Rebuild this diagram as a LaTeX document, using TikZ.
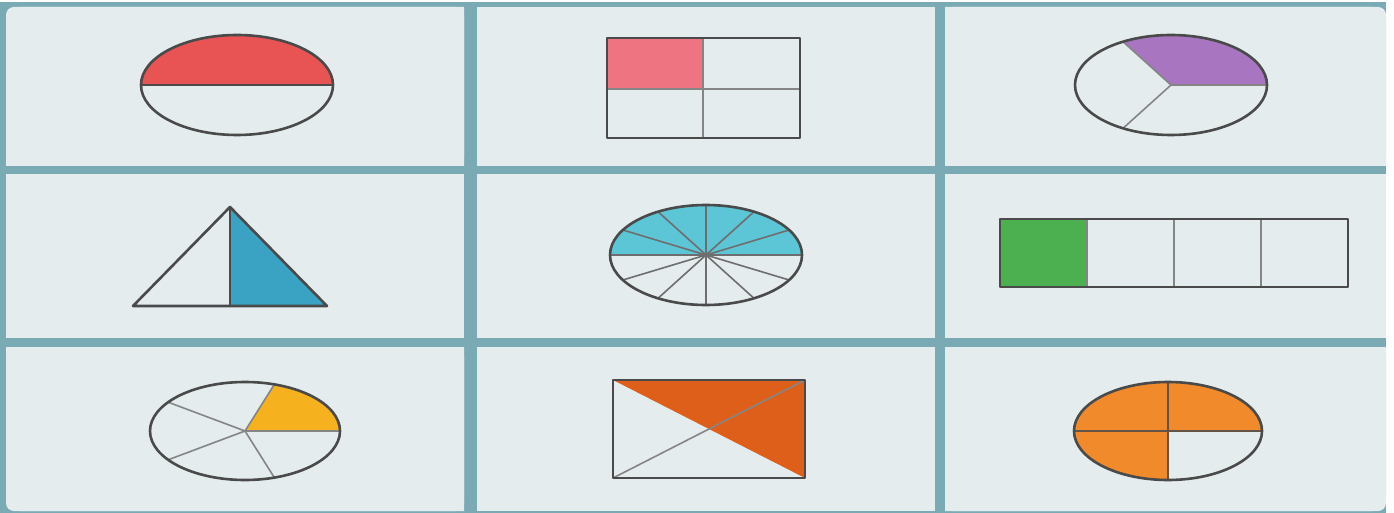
\documentclass[tikz,border=0pt]{standalone}
\definecolor{cellbg}{HTML}{E4ECEE}
\definecolor{framec}{HTML}{7AAAB4}
\definecolor{outc}{HTML}{4A4A4A}
\definecolor{innc}{HTML}{858585}
\definecolor{redc}{HTML}{E85454}
\definecolor{pinkc}{HTML}{EE7482}
\definecolor{purplec}{HTML}{A876C0}
\definecolor{bluec}{HTML}{3AA3C3}
\definecolor{cyanc}{HTML}{5CC6D6}
\definecolor{greenc}{HTML}{4CB050}
\definecolor{yellowc}{HTML}{F6B21E}
\definecolor{orangedk}{HTML}{DD5F1A}
\definecolor{orangec}{HTML}{F08A2A}
\begin{document}
\begin{tikzpicture}[x=1pt,y=-1pt,
  cell/.style={fill=cellbg},
  outline/.style={draw=outc,line width=2.6pt,line join=round},
  inner/.style={draw=innc,line width=1.6pt},
  darkinner/.style={draw=outc,line width=1.8pt}]
\useasboundingbox (0,0) rectangle (1394,513);
\fill[white] (0,0) rectangle (1394,513);
\fill[framec] (0,2) rectangle (1386,513);
% cells (corner cells: rounded outer corner only)
\fill[cell,rounded corners=8] (6,7) rectangle (464,166);
\fill[cell] (20,7) rectangle (464,166) (6,20) rectangle (464,166);
\fill[cell] (477,7) rectangle (935,166);
\fill[cell,rounded corners=8] (945,7) rectangle (1386,166);
\fill[cell] (945,7) rectangle (1372,166) (945,20) rectangle (1386,166);
\fill[cell] (6,174) rectangle (464,338);
\fill[cell] (477,174) rectangle (935,338);
\fill[cell] (945,174) rectangle (1386,338);
\fill[cell,rounded corners=8] (6,347) rectangle (464,511);
\fill[cell] (20,347) rectangle (464,511) (6,347) rectangle (464,497);
\fill[cell] (477,347) rectangle (935,511);
\fill[cell,rounded corners=8] (945,347) rectangle (1386,511);
\fill[cell] (945,347) rectangle (1372,511) (945,347) rectangle (1386,497);
% (1,1) half ellipse
\coordinate (e11) at (237,85);
\fill[redc] (e11) ++(-96,0) arc[start angle=180,end angle=360,x radius=96,y radius=50] -- cycle;
\draw[darkinner] (e11) ++(-96,0) -- ++(192,0);
\draw[outline] (e11) ellipse [x radius=96,y radius=50];
% (1,2) quarters rectangle
\fill[pinkc] (607,38) rectangle (703,89);
\draw[inner] (703,38) -- (703,138) (607,89) -- (800,89);
\draw[outline] (607,38) rectangle (800,138);
% (1,3) thirds ellipse
\coordinate (e13) at (1171,85);
\fill[purplec] (e13) -- ++(96,0) arc[start angle=0,end angle=-120,x radius=96,y radius=50] -- cycle;
\draw[inner] (e13) -- ++(0:96 and 50) (e13) -- ++(-120:96 and 50) (e13) -- ++(120:96 and 50);
\draw[outline] (e13) ellipse [x radius=96,y radius=50];
% (2,1) triangle
\fill[bluec] (230,207) -- (327,306) -- (230,306) -- cycle;
\draw[darkinner] (230,207) -- (230,306);
\draw[outline] (230,207) -- (327,306) -- (133,306) -- cycle;
% (2,2) twelfths ellipse
\coordinate (e22) at (706,255);
\fill[cyanc] (e22) ++(-96,0) arc[start angle=180,end angle=360,x radius=96,y radius=50] -- cycle;
\foreach \a in {0,30,...,330} \draw[inner,draw=outc!80] (e22) -- ++(\a:96 and 50);
\draw[outline] (e22) ellipse [x radius=96,y radius=50];
% (2,3) bar of four
\fill[greenc] (1000,219) rectangle (1087,287);
\draw[inner,line width=2.2pt] (1087,219) -- (1087,287) (1174,219) -- (1174,287) (1261,219) -- (1261,287);
\draw[outline] (1000,219) rectangle (1348,287);
% (3,1) fifths ellipse
\coordinate (e31) at (245,431);
\fill[yellowc] (e31) -- ++(95,0) arc[start angle=0,end angle=-72,x radius=95,y radius=49] -- cycle;
\foreach \a in {0,-72,-144,-216,-288} \draw[inner] (e31) -- ++(\a:95 and 49);
\draw[outline] (e31) ellipse [x radius=95,y radius=49];
% (3,2) rectangle with diagonals
\fill[orangedk] (613,380) -- (805,380) -- (805,478) -- cycle;
\draw[inner] (613,478) -- (805,380);
\draw[outline] (613,380) rectangle (805,478);
% (3,3) three quarters ellipse
\coordinate (e33) at (1168,431);
\fill[orangec] (e33) ellipse [x radius=94,y radius=49];
\fill[cellbg] (e33) -- ++(94,0) arc[start angle=0,end angle=90,x radius=94,y radius=49] -- cycle;
\draw[darkinner,draw=outc!85!orangec] (e33) ++(-94,0) -- ++(188,0) (e33) ++(0,-49) -- ++(0,98);
\draw[outline] (e33) ellipse [x radius=94,y radius=49];
\end{tikzpicture}
\end{document}
